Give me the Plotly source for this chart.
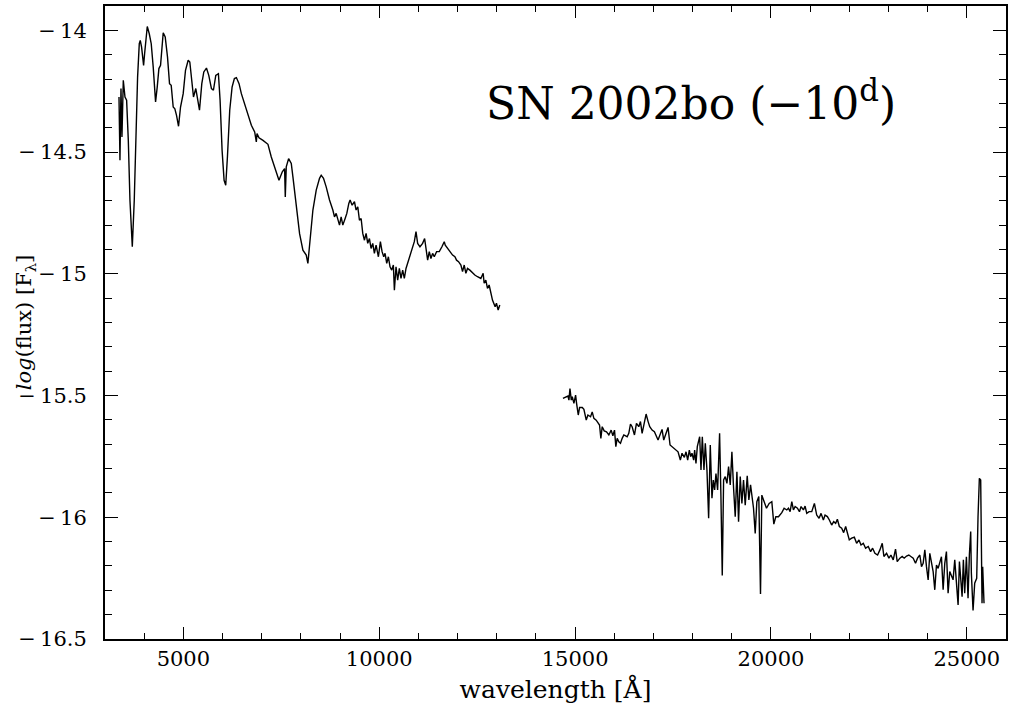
import plotly.graph_objects as go

# Optical spectrum (wavelength in Angstrom, log flux)
opt_wave = [3357, 3382, 3408, 3433, 3467, 3510, 3552, 3595, 3637, 3697, 3747, 3790, 3832, 3875, 3900,
            3934, 3960, 3985, 4011, 4079, 4130, 4180, 4231, 4291, 4333, 4376, 4418, 4486, 4537, 4596,
            4647, 4690, 4741, 4783, 4826, 4877, 4928, 4996, 5055, 5123, 5165, 5216, 5259, 5318, 5361,
            5412, 5471, 5522, 5590, 5649, 5717, 5768, 5828, 5895, 5938, 5989, 6040, 6082, 6125, 6184,
            6244, 6303, 6354, 6422, 6481, 6566, 6651, 6736, 6821, 6863, 6880, 6931, 7033, 7160, 7245,
            7330, 7441, 7526, 7585, 7602, 7627, 7687, 7755, 7797, 7882, 7967,
            8052, 8137, 8179, 8222, 8307, 8392, 8476, 8519, 8578, 8646, 8731, 8816, 8858, 8901, 8943,
            8986, 9028, 9071, 9130, 9173, 9224, 9257, 9308, 9368, 9410, 9453, 9495, 9538, 9580, 9623,
            9665, 9707, 9750, 9792, 9835, 9877, 9920, 9979, 10030, 10073, 10115, 10149, 10192, 10234,
            10276, 10319, 10361, 10387, 10429, 10471, 10514, 10556, 10599, 10641, 10684, 10769, 10854,
            10896, 10939, 10981, 11040, 11108, 11159, 11193, 11236, 11278, 11320, 11363, 11405, 11465,
            11533, 11601, 11660, 11686, 11745, 11805, 11873, 11932, 11974, 12025, 12085, 12127, 12170,
            12212, 12254, 12314, 12382, 12441, 12509, 12594, 12653, 12679, 12721, 12764, 12806, 12849,
            12891, 12959, 12993, 13036, 13078]
opt_flux = [-14.274, -14.534, -14.239, -14.438, -14.205, -14.274, -14.287, -14.452, -14.698, -14.889,
            -14.698, -14.424, -14.192, -14.055, -14.041, -14.069, -14.116, -14.144, -14.096, -13.984,
            -14.014, -14.055, -14.151, -14.294, -14.233, -14.157, -14.144, -14.010, -14.027, -14.110,
            -14.219, -14.226, -14.315, -14.322, -14.349, -14.394, -14.315, -14.260, -14.164, -14.123,
            -14.130, -14.219, -14.274, -14.239, -14.287, -14.328, -14.219, -14.171, -14.155, -14.185,
            -14.239, -14.246, -14.185, -14.178, -14.287, -14.493, -14.616, -14.636, -14.520, -14.328,
            -14.233, -14.198, -14.194, -14.219, -14.260, -14.301, -14.342, -14.390, -14.417, -14.458,
            -14.424, -14.441, -14.452, -14.468, -14.520, -14.561, -14.616, -14.581, -14.568, -14.684,
            -14.561, -14.527, -14.547, -14.602, -14.725, -14.835,
            -14.903, -14.923, -14.957, -14.875, -14.738, -14.656, -14.608, -14.595, -14.608, -14.643,
            -14.697, -14.738, -14.766, -14.752, -14.780, -14.800, -14.766, -14.800, -14.773, -14.752,
            -14.711, -14.697, -14.718, -14.704, -14.738, -14.725, -14.780, -14.773, -14.834, -14.862,
            -14.834, -14.875, -14.855, -14.896, -14.875, -14.916, -14.882, -14.930, -14.868, -14.909,
            -14.930, -14.916, -14.957, -14.930, -14.971, -14.985, -14.964, -15.067, -14.971, -15.026,
            -14.978, -15.019, -14.985, -15.019, -14.978, -14.937, -14.889, -14.868, -14.827, -14.875,
            -14.889, -14.875, -14.855, -14.889, -14.944, -14.909, -14.937, -14.916, -14.930, -14.909,
            -14.909, -14.889, -14.868, -14.882, -14.896, -14.909, -14.923, -14.930, -14.944, -14.950,
            -14.964, -14.991, -14.964, -14.998, -14.978, -14.985, -14.998, -15.005, -15.012, -15.019,
            -14.998, -15.039, -15.026, -15.060, -15.046, -15.074, -15.108, -15.135, -15.121, -15.149,
            -15.128]

# Near-infrared spectrum
ir_wave = [14690, 14758, 14818, 14843, 14869, 14903, 14928, 14970, 15013, 15038, 15081, 15115, 15183,
           15225, 15285, 15327, 15395, 15437, 15480, 15539, 15590, 15624, 15658, 15692, 15743, 15802,
           15862, 15921, 15964, 16006, 16040, 16074, 16117, 16159, 16202, 16244, 16329, 16371, 16414,
           16456, 16516, 16567, 16626, 16669, 16711, 16762, 16813, 16864, 16906, 16966, 17025, 17118,
           17169, 17220, 17263, 17314, 17373, 17424, 17475, 17560, 17628, 17687, 17730, 17789, 17832,
           17874, 17916, 17950, 17984, 18027, 18052, 18086, 18120, 18180, 18214, 18248, 18290, 18324,
           18366, 18409, 18451, 18494, 18528, 18562, 18596, 18638, 18689, 18723, 18757, 18791, 18833,
           18876, 18918, 18961, 19003, 19046, 19088, 19131, 19173, 19216, 19258, 19300, 19343, 19394,
           19436, 19479, 19521, 19555, 19598, 19640, 19690, 19733, 19767, 19818, 19886, 19954, 20022,
           20073, 20124, 20192, 20277, 20336, 20404, 20447, 20489, 20532, 20574, 20617, 20676, 20727,
           20769, 20829, 20871, 20914, 20973, 21041, 21109, 21168, 21228, 21279, 21338, 21381, 21440,
           21491, 21550, 21601, 21652, 21695, 21746, 21805, 21856, 21907, 21958, 22000, 22060, 22128,
           22187, 22247, 22298, 22357, 22416, 22484, 22544, 22595, 22654, 22722, 22781, 22841, 22883,
           22951, 23011, 23062, 23121, 23180, 23223, 23291, 23350, 23401, 23461, 23520, 23571, 23631,
           23690, 23741, 23800, 23843, 23885, 23928, 23970, 24013, 24055, 24097, 24140, 24182, 24225,
           24267, 24352, 24395, 24437, 24479, 24522, 24564, 24607, 24649, 24692, 24734, 24777, 24811,
           24845, 24879, 24912, 24946, 24989, 25031, 25065, 25099, 25116, 25159, 25201, 25252, 25286,
           25320, 25354, 25388, 25405, 25439]
ir_flux = [-15.512, -15.505, -15.502, -15.519, -15.471, -15.519, -15.505, -15.532, -15.498, -15.532,
           -15.580, -15.549, -15.549, -15.557, -15.601, -15.580, -15.587, -15.567, -15.594, -15.601,
           -15.614, -15.621, -15.676, -15.628, -15.645, -15.649, -15.662, -15.642, -15.665, -15.642,
           -15.710, -15.676, -15.690, -15.696, -15.676, -15.662, -15.669, -15.655, -15.617, -15.628,
           -15.662, -15.614, -15.628, -15.607, -15.655, -15.621, -15.576, -15.607, -15.628, -15.642,
           -15.649, -15.683, -15.662, -15.639, -15.683, -15.662, -15.631, -15.703, -15.710, -15.721,
           -15.731, -15.765, -15.737, -15.754, -15.731, -15.765, -15.724, -15.751, -15.737, -15.765,
           -15.724, -15.779, -15.710, -15.669, -15.806, -15.669, -15.806, -15.696, -15.806, -16.004,
           -15.703, -15.922, -15.847, -15.888, -15.820, -15.888, -15.655, -15.915, -16.239, -15.847,
           -15.833, -15.861, -15.792, -15.867, -15.731, -15.881, -15.998, -15.813, -16.018, -15.833,
           -15.943, -15.847, -15.950, -15.830, -15.929, -15.867, -15.922, -15.963, -16.066, -15.936,
           -15.915, -16.315, -15.909, -15.929, -15.963, -15.943, -15.936, -16.028, -15.998, -15.998,
           -15.981, -15.963, -15.970, -15.963, -15.977, -15.936, -15.970, -15.956, -15.963, -15.977,
           -15.956, -15.970, -15.954, -15.984, -15.977, -15.977, -15.943, -15.991, -16.004, -15.984,
           -16.011, -15.991, -15.997, -16.011, -16.032, -16.018, -16.025, -16.008, -16.038, -16.045,
           -16.063, -16.038, -16.066, -16.093, -16.086, -16.082, -16.107, -16.093, -16.114, -16.107,
           -16.127, -16.120, -16.141, -16.127, -16.148, -16.155, -16.134, -16.107, -16.161, -16.148,
           -16.168, -16.155, -16.175, -16.131, -16.182, -16.168, -16.161, -16.168, -16.159, -16.155,
           -16.161, -16.168, -16.189, -16.168, -16.155, -16.203, -16.189, -16.134, -16.203, -16.257,
           -16.148, -16.189, -16.223, -16.298, -16.196, -16.210, -16.162, -16.298, -16.189, -16.141,
           -16.312, -16.223, -16.244, -16.257, -16.175, -16.271, -16.360, -16.182, -16.244, -16.326,
           -16.175, -16.312, -16.162, -16.333, -16.155, -16.059, -16.230, -16.383, -16.271, -16.251,
           -15.997, -15.840, -15.847, -16.353, -16.203, -16.353]

x_tickvals = [5000, 10000, 15000, 20000, 25000]
y_tickvals = [-14, -14.5, -15, -15.5, -16, -16.5]
y_ticktext = ["\u2212\u200914", "\u2212\u200914.5", "\u2212\u200915", "\u2212\u200915.5",
              "\u2212\u200916", "\u2212\u200916.5"]

SERIF = "DejaVu Serif"

fig = go.Figure()
line_style = dict(color="black", width=1.4)
fig.add_trace(go.Scatter(x=opt_wave, y=opt_flux, mode="lines", line=line_style, showlegend=False))
fig.add_trace(go.Scatter(x=ir_wave, y=ir_flux, mode="lines", line=line_style, showlegend=False))

fig.add_annotation(
    x=0.65, y=0.85, xref="paper", yref="paper",
    text="SN 2002bo (\u221210<sup>d</sup>)", showarrow=False,
    font=dict(family=SERIF, size=44, color="black"),
    xanchor="center", yanchor="middle",
)
# y-axis title (placed as in the reference, partly overlapping the tick labels)
fig.add_annotation(
    x=-0.089, y=0.5, xref="paper", yref="paper",
    text="<i>log</i>(flux) [F<sub>\u03bb</sub>]", showarrow=False, textangle=-90,
    font=dict(family=SERIF, size=21, color="black"),
    xanchor="center", yanchor="middle",
)

fig.update_xaxes(
    range=[3000, 26000], tickvals=x_tickvals, ticktext=[str(v) for v in x_tickvals],
    ticks="inside", ticklen=12, tickwidth=1.3, tickcolor="black",
    minor=dict(ticks="inside", ticklen=6, dtick=1000, tick0=0, tickwidth=1.3, tickcolor="black"),
    showline=True, linecolor="black", linewidth=2, mirror="ticks",
    showgrid=False, zeroline=False,
    tickfont=dict(family=SERIF, size=21, color="black"),
    title=dict(text="wavelength [\u00c5]", font=dict(family=SERIF, size=25, color="black"), standoff=10),
)
fig.update_yaxes(
    range=[-16.5, -13.9], tickvals=y_tickvals, ticktext=y_ticktext,
    ticks="inside", ticklen=13, tickwidth=1.3, tickcolor="black",
    minor=dict(ticks="inside", ticklen=7, dtick=0.1, tick0=0, tickwidth=1.3, tickcolor="black"),
    showline=True, linecolor="black", linewidth=2, mirror="ticks",
    showgrid=False, zeroline=False,
    tickfont=dict(family=SERIF, size=21, color="black"),
    ticklabelstandoff=12,
)

fig.update_layout(
    width=1012, height=706,
    margin=dict(l=105, r=4, t=5, b=67),
    paper_bgcolor="white", plot_bgcolor="white",
    font=dict(family=SERIF, size=20, color="black"),
)

fig.write_html("out.html")
